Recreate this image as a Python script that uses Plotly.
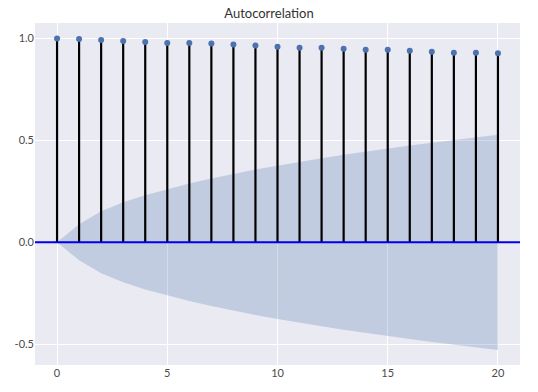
import plotly.graph_objects as go

lags = list(range(21))
acf_values = [1.0, 0.997, 0.993, 0.988, 0.983, 0.978, 0.978, 0.975, 0.970, 0.965,
              0.960, 0.955, 0.955, 0.950, 0.945, 0.945, 0.940, 0.935, 0.930, 0.930, 0.927]
conf_half = [0.0, 0.088, 0.152, 0.196, 0.231, 0.261, 0.288, 0.313, 0.336, 0.357,
             0.376, 0.395, 0.412, 0.429, 0.445, 0.460, 0.475, 0.489, 0.503, 0.516, 0.528]
x_ticks = [0, 5, 10, 15, 20]
y_ticks = [-0.5, 0.0, 0.5, 1.0]
y_tick_labels = ["-0.5", "0.0", "0.5", "1.0"]

fig = go.Figure()

# confidence band
fig.add_trace(go.Scatter(x=lags, y=conf_half, mode="lines", line=dict(width=0),
                         hoverinfo="skip", showlegend=False))
fig.add_trace(go.Scatter(x=lags, y=[-v for v in conf_half], mode="lines", line=dict(width=0),
                         fill="tonexty", fillcolor="rgba(76,114,176,0.25)",
                         hoverinfo="skip", showlegend=False))

# stems
sx, sy = [], []
for lag, v in zip(lags, acf_values):
    sx += [lag, lag, None]
    sy += [0, v, None]
fig.add_trace(go.Scatter(x=sx, y=sy, mode="lines", line=dict(color="black", width=2.2),
                         showlegend=False, hoverinfo="skip"))

# zero line
fig.add_trace(go.Scatter(x=[-1, 21], y=[0, 0], mode="lines",
                         line=dict(color="#0000ee", width=2), showlegend=False))

# markers
fig.add_trace(go.Scatter(x=lags, y=acf_values, mode="markers",
                         marker=dict(color="#4c72b0", size=6), showlegend=False))

fig.update_layout(
    width=538, height=392,
    margin=dict(l=35, r=18, t=23, b=27),
    paper_bgcolor="white",
    plot_bgcolor="#eaeaf2",
    font=dict(family="Lato, DejaVu Sans, sans-serif", size=11, color="#4a4a4a"),
    title=dict(text="Autocorrelation", x=0.5, xanchor="center", y=0.978, yanchor="top",
               font=dict(size=13, color="#333333")),
    xaxis=dict(range=[-1, 21], tickvals=x_ticks, showgrid=True, gridcolor="white",
               gridwidth=1, zeroline=False, showline=False, ticks="", ticklen=0),
    yaxis=dict(range=[-0.602, 1.076], tickvals=y_ticks, ticktext=y_tick_labels,
               showgrid=True, gridcolor="white", gridwidth=1, zeroline=False,
               showline=False, ticks="", ticklen=0),
)

fig.write_html("out.html")
